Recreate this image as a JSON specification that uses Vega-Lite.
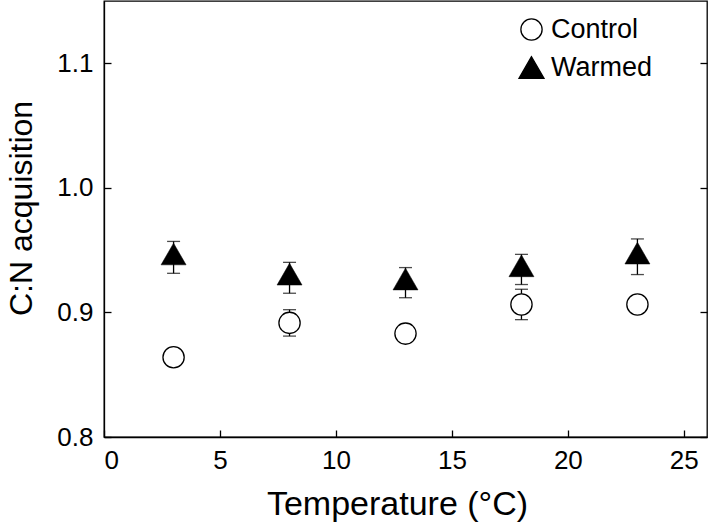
{
  "$schema": "https://vega.github.io/schema/vega-lite/v6.json",
  "width": 603,
  "height": 436,
  "autosize": "none",
  "padding": {"left": 104, "top": 1, "right": 2, "bottom": 87},
  "background": "white",
  "config": {
    "view": {"stroke": "black", "strokeWidth": 1.3},
    "font": "Liberation Sans",
    "axis": {
      "labelFont": "Liberation Sans",
      "titleFont": "Liberation Sans",
      "labelColor": "black",
      "titleColor": "black",
      "domainColor": "black",
      "tickColor": "black",
      "grid": false,
      "labelFontSize": 26,
      "titleFontWeight": "normal",
      "tickSize": -7,
      "tickWidth": 1.3,
      "domainWidth": 1.3
    },
    "legend": {"labelFont": "Liberation Sans", "labelColor": "black"}
  },
  "data": {
    "values": [
      {"treatment": "Control", "temp": 3, "mean": 0.864, "lo": 0.860, "hi": 0.868},
      {"treatment": "Control", "temp": 8, "mean": 0.8916, "lo": 0.881, "hi": 0.9022},
      {"treatment": "Control", "temp": 13, "mean": 0.883, "lo": 0.878, "hi": 0.888},
      {"treatment": "Control", "temp": 18, "mean": 0.9064, "lo": 0.8942, "hi": 0.9186},
      {"treatment": "Control", "temp": 23, "mean": 0.9064, "lo": 0.902, "hi": 0.911},
      {"treatment": "Warmed", "temp": 3, "mean": 0.944, "lo": 0.9314, "hi": 0.957},
      {"treatment": "Warmed", "temp": 8, "mean": 0.9278, "lo": 0.9154, "hi": 0.9402},
      {"treatment": "Warmed", "temp": 13, "mean": 0.9239, "lo": 0.9118, "hi": 0.936},
      {"treatment": "Warmed", "temp": 18, "mean": 0.9345, "lo": 0.9224, "hi": 0.9466},
      {"treatment": "Warmed", "temp": 23, "mean": 0.9447, "lo": 0.9304, "hi": 0.959}
    ]
  },
  "resolve": {"axis": {"y": "independent"}},
  "layer": [
    {
      "mark": {"type": "rule", "color": "black", "strokeWidth": 1.3},
      "encoding": {
        "x": {
          "field": "temp", "type": "quantitative",
          "scale": {"domain": [0, 26], "nice": false, "zero": false},
          "axis": {"title": "Temperature (°C)", "values": [0, 5, 10, 15, 20, 25], "titleFontSize": 34, "labelPadding": 17, "titlePadding": 14, "titleX": 293}
        },
        "y": {
          "field": "lo", "type": "quantitative",
          "scale": {"domain": [0.8, 1.15], "nice": false, "zero": false},
          "axis": {"title": "C:N acquisition", "values": [0.8, 0.9, 1.0, 1.1], "format": ".1f", "titleFontSize": 32, "labelPadding": 18, "titlePadding": 18, "titleY": 207}
        },
        "y2": {"field": "hi"}
      }
    },
    {
      "mark": {"type": "tick", "orient": "horizontal", "color": "black", "size": 13, "thickness": 1.3},
      "encoding": {
        "x": {"field": "temp", "type": "quantitative"},
        "y": {"field": "lo", "type": "quantitative", "axis": null}
      }
    },
    {
      "mark": {"type": "tick", "orient": "horizontal", "color": "black", "size": 13, "thickness": 1.3},
      "encoding": {
        "x": {"field": "temp", "type": "quantitative"},
        "y": {"field": "hi", "type": "quantitative", "axis": null}
      }
    },
    {
      "transform": [{"filter": "datum.treatment === 'Control'"}],
      "mark": {"type": "point", "filled": false, "stroke": "black", "strokeWidth": 1.3, "opacity": 1},
      "encoding": {
        "x": {"field": "temp", "type": "quantitative"},
        "y": {"field": "mean", "type": "quantitative", "axis": null},
        "shape": {"field": "treatment", "type": "nominal", "scale": {"domain": ["Control", "Warmed"], "range": ["circle", "triangle-up"]}, "legend": {"title": null, "orient": "none", "legendX": 414, "legendY": 15, "labelFontSize": 27, "labelOffset": 6, "rowPadding": 10, "padding": 0, "symbolStrokeWidth": 1.3, "symbolStrokeColor": "black"}},
        "fill": {"field": "treatment", "type": "nominal", "scale": {"domain": ["Control", "Warmed"], "range": ["white", "black"]}},
        "size": {"field": "treatment", "type": "nominal", "scale": {"domain": ["Control", "Warmed"], "range": [452, 625]}}
      }
    },
    {
      "transform": [{"filter": "datum.treatment === 'Warmed'"}],
      "mark": {"type": "point", "filled": true, "stroke": "black", "strokeWidth": 0.5, "opacity": 1, "yOffset": -3.6},
      "encoding": {
        "x": {"field": "temp", "type": "quantitative"},
        "y": {"field": "mean", "type": "quantitative", "axis": {"orient": "right", "title": null, "labels": false, "domain": false, "values": [0.8, 0.9, 1.0, 1.1]}},
        "shape": {"field": "treatment", "type": "nominal"},
        "fill": {"field": "treatment", "type": "nominal"},
        "size": {"field": "treatment", "type": "nominal"}
      }
    }
  ]
}
